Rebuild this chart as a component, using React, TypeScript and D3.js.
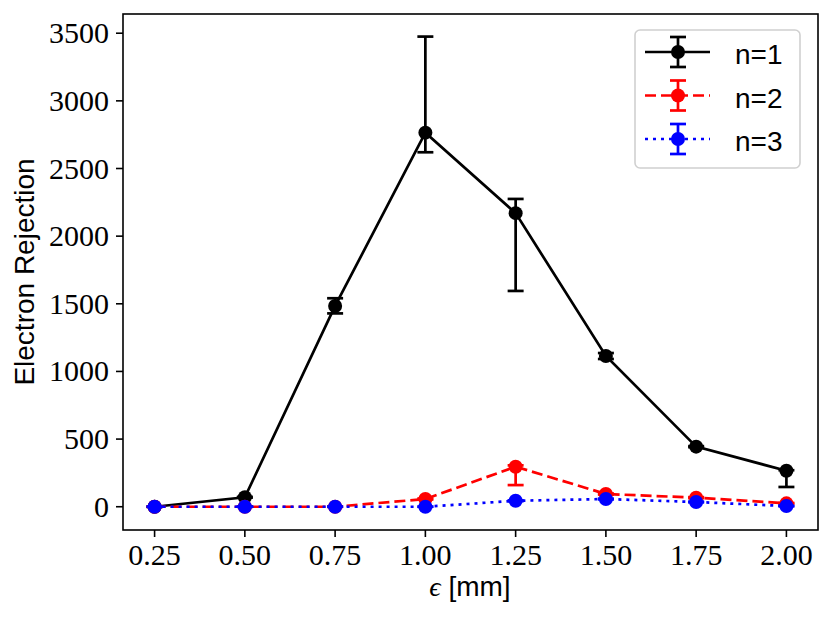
import * as d3 from "d3";

// epsilon values (mm) shared by all three series
const eps = [0.25, 0.5, 0.75, 1.0, 1.25, 1.5, 1.75, 2.0];

// n=1
const rej1 = [0, 70, 1484, 2765, 2170, 1114, 444, 266];
const lo1 = [0, 3, 55, 145, 575, 22, 4, 120];
const hi1 = [0, 3, 57, 710, 105, 22, 4, 4];

// n=2
const rej2 = [0, 0, 0, 57, 296, 94, 67, 25];
const lo2 = [0, 0, 0, 4, 136, 4, 4, 3];
const hi2 = [0, 0, 0, 4, 10, 4, 4, 3];

// n=3
const rej3 = [0, 0, 0, 0, 44, 57, 35, 5];
const lo3 = [0, 0, 0, 0, 3, 3, 3, 2];
const hi3 = [0, 0, 0, 0, 3, 3, 3, 2];

const xTicks = [0.25, 0.5, 0.75, 1.0, 1.25, 1.5, 1.75, 2.0];
const yTicks = [0, 500, 1000, 1500, 2000, 2500, 3000, 3500];
const labels = ["n=1", "n=2", "n=3"];

type Series = {
    label: string;
    values: number[];
    lo: number[];
    hi: number[];
    color: string;
    dash: string;
};

const series: Series[] = [
    { label: labels[0], values: rej1, lo: lo1, hi: hi1, color: "#000000", dash: "none" },
    { label: labels[1], values: rej2, lo: lo2, hi: hi2, color: "#ff0000", dash: "11,5" },
    { label: labels[2], values: rej3, lo: lo3, hi: hi3, color: "#0000ff", dash: "3,5" },
];

const width = 830;
const height = 624;
const plot = { left: 123, right: 818, top: 14, bottom: 530 };

const serif = "'Liberation Serif', 'DejaVu Serif', serif";
const sans = "'Liberation Sans', Arial, sans-serif";

export default function App() {
    const x = d3.scaleLinear().domain([0.1625, 2.0875]).range([plot.left, plot.right]);
    const y = d3.scaleLinear().domain([-172, 3642]).range([plot.bottom, plot.top]);

    const line = d3
        .line<number>()
        .x((_, i) => x(eps[i]))
        .y((d) => y(d));

    const cap = 8;
    const lw = 2.7;
    const r = 7;

    return (
        <svg
            width={width}
            height={height}
            style={{ position: "absolute", left: 0, top: 0, background: "#fff" }}
        >
            {/* series: line, error bars, markers */}
            {series.map((s) => (
                <g key={s.label}>
                    <path d={line(s.values) ?? ""} fill="none" stroke={s.color} strokeWidth={lw} strokeDasharray={s.dash} />
                    {s.values.map((v, i) => {
                        const cx = x(eps[i]);
                        const y0 = y(v - s.lo[i]);
                        const y1 = y(v + s.hi[i]);
                        return (
                            <g key={i} stroke={s.color} strokeWidth={lw}>
                                <line x1={cx} x2={cx} y1={y0} y2={y1} />
                                <line x1={cx - cap} x2={cx + cap} y1={y0} y2={y0} />
                                <line x1={cx - cap} x2={cx + cap} y1={y1} y2={y1} />
                            </g>
                        );
                    })}
                    {s.values.map((v, i) => (
                        <circle key={i} cx={x(eps[i])} cy={y(v)} r={r} fill={s.color} />
                    ))}
                </g>
            ))}

            {/* frame */}
            <rect
                x={plot.left}
                y={plot.top}
                width={plot.right - plot.left}
                height={plot.bottom - plot.top}
                fill="none"
                stroke="#000"
                strokeWidth={1.6}
            />

            {/* x axis */}
            {xTicks.map((t) => (
                <g key={t}>
                    <line x1={x(t)} x2={x(t)} y1={plot.bottom} y2={plot.bottom + 7} stroke="#000" strokeWidth={1.6} />
                    <text x={x(t)} y={565} textAnchor="middle" fontFamily={serif} fontSize={30}>
                        {t.toFixed(2)}
                    </text>
                </g>
            ))}

            {/* y axis */}
            {yTicks.map((t) => (
                <g key={t}>
                    <line x1={plot.left - 7} x2={plot.left} y1={y(t)} y2={y(t)} stroke="#000" strokeWidth={1.6} />
                    <text x={109} y={y(t) + 10} textAnchor="end" fontFamily={serif} fontSize={30}>
                        {t}
                    </text>
                </g>
            ))}

            {/* axis labels */}
            <text x={470} y={596} textAnchor="middle" fontSize={28}>
                <tspan fontFamily={serif} fontStyle="italic">ϵ</tspan>
                <tspan fontFamily={sans}> [mm]</tspan>
            </text>
            <text
                transform={`translate(34,${(plot.top + plot.bottom) / 2}) rotate(-90)`}
                textAnchor="middle"
                fontFamily={sans}
                fontSize={28}
            >
                Electron Rejection
            </text>

            {/* legend */}
            <rect x={635} y={30} width={165} height={138} rx={5} fill="#fff" fillOpacity={0.8} stroke="#d0d0d0" strokeWidth={1.6} />
            {series.map((s, i) => {
                const cy = 52 + i * 43.5;
                return (
                    <g key={s.label}>
                        <line x1={645} x2={710} y1={cy} y2={cy} stroke={s.color} strokeWidth={lw} strokeDasharray={s.dash} />
                        <g stroke={s.color} strokeWidth={lw}>
                            <line x1={678} x2={678} y1={cy - 15} y2={cy + 15} />
                            <line x1={678 - cap} x2={678 + cap} y1={cy - 15} y2={cy - 15} />
                            <line x1={678 - cap} x2={678 + cap} y1={cy + 15} y2={cy + 15} />
                        </g>
                        <circle cx={678} cy={cy} r={r} fill={s.color} />
                        <text x={735} y={cy + 12} fontFamily={sans} fontSize={28}>
                            {s.label}
                        </text>
                    </g>
                );
            })}
        </svg>
    );
}
